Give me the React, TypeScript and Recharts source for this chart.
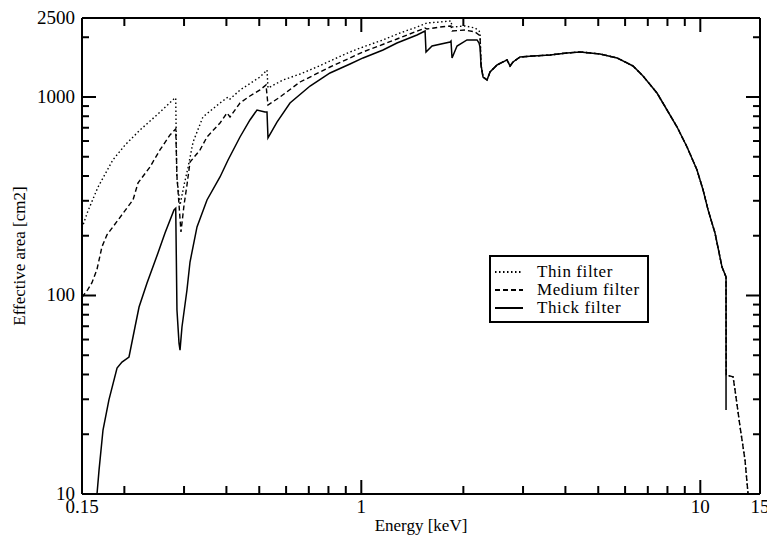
import { LineChart, Line, XAxis, YAxis, ReferenceLine } from 'recharts';

const FONT = '"Liberation Serif", "DejaVu Serif", serif';

// energy [keV], effective area [cm2]
const thinLow = [
  [0.150, 219], [0.156, 265], [0.167, 350], [0.185, 482], [0.201, 573], [0.2225, 682],
  [0.255, 840], [0.280, 977], [0.2835, 990], [0.2855, 395], [0.292, 286], [0.300, 360],
  [0.308, 439], [0.319, 593], [0.341, 793], [0.383, 933], [0.4045, 1000], [0.410, 977],
  [0.439, 1085], [0.5025, 1261], [0.527, 1368], [0.5306, 1110], [0.5875, 1218], [0.660, 1306],
  [0.740, 1416], [0.809, 1519], [0.926, 1686], [1.012, 1786], [1.159, 1938], [1.301, 2101],
  [1.460, 2252], [1.563, 2360], [1.707, 2387], [1.839, 2415], [1.852, 2252], [2.023, 2279],
  [2.165, 2226], [2.225, 2150], [2.240, 2100],
];

const mediumLow = [
  [0.150, 98], [0.156, 107], [0.1605, 116], [0.166, 135], [0.1718, 176], [0.1777, 202],
  [0.1916, 240], [0.2036, 276], [0.2121, 303], [0.2195, 369], [0.238, 444], [0.2547, 541],
  [0.2727, 644], [0.2835, 690], [0.2859, 400], [0.2938, 209], [0.300, 286], [0.306, 360],
  [0.3124, 470], [0.3344, 541], [0.3506, 629], [0.383, 740], [0.4017, 831], [0.410, 793],
  [0.4387, 933], [0.4694, 1012], [0.5025, 1085], [0.5235, 1150], [0.5306, 911], [0.5757, 1000],
  [0.6596, 1190], [0.8086, 1416], [1.012, 1686], [1.274, 1960], [1.542, 2226], [1.563, 2200],
  [1.707, 2252], [1.839, 2279], [1.852, 2150], [2.023, 2175], [2.165, 2126], [2.225, 2053],
  [2.240, 2030],
];

const thickLow = [
  [0.1661, 10], [0.1684, 13.2], [0.173, 21], [0.1801, 29.8], [0.1903, 43.1], [0.1968, 46.2],
  [0.2064, 49], [0.215, 69.4], [0.221, 87.5], [0.2333, 115.6], [0.2513, 163.7], [0.2636, 206.5],
  [0.2802, 269.7], [0.2835, 275], [0.2859, 84.5], [0.2899, 57.6], [0.2919, 53.1], [0.2958, 69.4],
  [0.306, 106.6], [0.3124, 147.5], [0.3276, 221.4], [0.3506, 302.8], [0.383, 395.4], [0.4045, 481.6],
  [0.4387, 628.8], [0.4694, 765.9], [0.4923, 860.1], [0.5199, 840], [0.527, 840], [0.5306, 622],
  [0.564, 748], [0.6161, 933], [0.7061, 1136], [0.8086, 1321], [0.9262, 1467], [1.012, 1573],
  [1.159, 1725], [1.274, 1871], [1.46, 2053], [1.542, 2150], [1.552, 1686], [1.617, 1807],
  [1.827, 1893], [1.839, 1915], [1.852, 1573], [1.916, 1807], [2.05, 1938], [2.195, 1938],
  [2.225, 1871], [2.24, 1786],
];

// above the Au M edge the three filters give the same area
const commonHigh = [
  [2.255, 1450], [2.286, 1261], [2.349, 1218], [2.397, 1336], [2.514, 1450], [2.691, 1537],
  [2.747, 1433], [2.803, 1501], [2.939, 1591], [3.211, 1609], [3.604, 1628], [4.045, 1667],
  [4.418, 1686], [5.06, 1647], [5.679, 1573], [6.332, 1433], [6.776, 1276], [7.452, 1047],
  [7.977, 860], [8.54, 706], [9.138, 560], [9.779, 429], [10.19, 340], [10.54, 270],
  [11.05, 206.5], [11.59, 139], [11.91, 124],
];

const openTail = [[11.93, 39.8], [12.49, 38.9], [12.66, 33.4], [13.1, 21.8], [13.55, 14.8], [13.83, 10]];
const thickTail = [[11.91, 26.5]];

const xTicks = [0.15, 0.2, 0.3, 0.4, 0.5, 0.6, 0.7, 0.8, 0.9, 1, 2, 3, 4, 5, 6, 7, 8, 9, 10, 15];
const xMinor = [0.2, 0.3, 0.4, 0.5, 0.6, 0.7, 0.8, 0.9, 2, 3, 4, 5, 6, 7, 8, 9];
const xMajor = [1, 10];
const xLabels: Record<string, string> = { '0.15': '0.15', '1': '1', '10': '10', '15': '15' };
const yTicks = [10, 20, 30, 40, 50, 60, 70, 80, 90, 100, 200, 300, 400, 500, 600, 700, 800, 900, 1000, 2000, 2500];
const yMinor = [20, 30, 40, 50, 60, 70, 80, 90, 200, 300, 400, 500, 600, 700, 800, 900, 2000];
const yMajor = [100, 1000];
const yLabels: Record<string, string> = { '10': '10', '100': '100', '1000': '1000', '2500': '2500' };

const X_MIN = 0.15;
const X_MAX = 15;
const Y_MIN = 10;
const Y_MAX = 2500;

// tick lengths as ratios on the log axes (plot is 678px for 2 decades in x, 476px for log10(250) in y)
const X_PX = 678 / 2;
const Y_PX = 476 / Math.log10(250);
const vMinor = Math.pow(10, 8 / Y_PX);
const vMajor = Math.pow(10, 14 / Y_PX);
const hMinor = Math.pow(10, 7 / X_PX);
const hMajor = Math.pow(10, 14 / X_PX);

const toPoints = (rows: number[][]) => rows.map(([e, a]) => ({ e, a }));

const thin = toPoints([...thinLow, ...commonHigh, ...openTail]);
const medium = toPoints([...mediumLow, ...commonHigh, ...openTail]);
const thick = toPoints([...thickLow, ...commonHigh, ...thickTail]);

const SERIES = [
  { name: 'Thin filter', data: thin, dash: '1.5 2.5', width: 1.4 },
  { name: 'Medium filter', data: medium, dash: '5 3', width: 1.4 },
  { name: 'Thick filter', data: thick, dash: undefined, width: 1.5 },
];

// labels only; the end ticks also draw the frame edges
const XTick = (props: any) => {
  const { x, payload } = props;
  const v = payload.value;
  const label = xLabels[String(v)];
  return (
    <g>
      {(v === X_MIN || v === X_MAX) && <line x1={x} x2={x} y1={18} y2={494} stroke="#000" strokeWidth={2} />}
      {label && (
        <text x={x} y={513} textAnchor="middle" fontFamily={FONT} fontSize={19} fill="#000">
          {label}
        </text>
      )}
    </g>
  );
};

const YTick = (props: any) => {
  const { y, payload } = props;
  const v = payload.value;
  const label = yLabels[String(v)];
  return (
    <g>
      {(v === Y_MIN || v === Y_MAX) && <line x1={82} x2={760} y1={y} y2={y} stroke="#000" strokeWidth={2} />}
      {label && (
        <text x={75} y={y + 6} textAnchor="end" fontFamily={FONT} fontSize={19} fill="#000">
          {label}
        </text>
      )}
    </g>
  );
};

const tickSegments = () => {
  const segs: { key: string; seg: { x: number; y: number }[] }[] = [];
  xMinor.forEach((v) => {
    segs.push({ key: `xb${v}`, seg: [{ x: v, y: Y_MIN }, { x: v, y: Y_MIN * vMinor }] });
    segs.push({ key: `xt${v}`, seg: [{ x: v, y: Y_MAX }, { x: v, y: Y_MAX / vMinor }] });
  });
  xMajor.forEach((v) => {
    segs.push({ key: `xB${v}`, seg: [{ x: v, y: Y_MIN }, { x: v, y: Y_MIN * vMajor }] });
    segs.push({ key: `xT${v}`, seg: [{ x: v, y: Y_MAX }, { x: v, y: Y_MAX / vMajor }] });
  });
  yMinor.forEach((v) => {
    segs.push({ key: `yl${v}`, seg: [{ x: X_MIN, y: v }, { x: X_MIN * hMinor, y: v }] });
    segs.push({ key: `yr${v}`, seg: [{ x: X_MAX, y: v }, { x: X_MAX / hMinor, y: v }] });
  });
  yMajor.forEach((v) => {
    segs.push({ key: `yL${v}`, seg: [{ x: X_MIN, y: v }, { x: X_MIN * hMajor, y: v }] });
    segs.push({ key: `yR${v}`, seg: [{ x: X_MAX, y: v }, { x: X_MAX / hMajor, y: v }] });
  });
  return segs;
};

const LegendBox = () => (
  <div
    style={{
      position: 'absolute',
      left: 489,
      top: 255,
      border: '2px solid #000',
      background: '#fff',
      width: 160,
      height: 68,
      boxSizing: 'border-box',
      padding: '6px 0 0 4px',
      fontFamily: FONT,
      fontSize: 17,
      color: '#000',
    }}
  >
    {SERIES.map((s) => (
      <div key={s.name} style={{ display: 'flex', alignItems: 'center', height: 18, lineHeight: '18px' }}>
        <svg width={28} height={10} style={{ flex: 'none' }}>
          <line x1={0} x2={28} y1={5} y2={5} stroke="#000" strokeWidth={2} strokeDasharray={s.dash} />
        </svg>
        <span style={{ marginLeft: 14, whiteSpace: 'nowrap', letterSpacing: 0.6 }}>{s.name}</span>
      </div>
    ))}
  </div>
);

export default function App() {
  return (
    <div style={{ position: 'absolute', left: 0, top: 0, width: 767, height: 538, background: '#fff', overflow: 'hidden' }}>
      <LineChart width={767} height={538} margin={{ top: 18, right: 7, bottom: 0, left: 0 }}>
        <XAxis
          dataKey="e"
          type="number"
          scale="log"
          domain={[X_MIN, X_MAX]}
          ticks={xTicks}
          interval={0}
          allowDataOverflow
          axisLine={false}
          tickLine={false}
          tick={(p: any) => <XTick {...p} />}
          height={44}
        />
        <YAxis
          type="number"
          scale="log"
          domain={[Y_MIN, Y_MAX]}
          ticks={yTicks}
          interval={0}
          allowDataOverflow
          axisLine={false}
          tickLine={false}
          tick={(p: any) => <YTick {...p} />}
          width={82}
        />
        {tickSegments().map((t) => (
          <ReferenceLine key={t.key} segment={t.seg} stroke="#000" strokeWidth={2} ifOverflow="visible" />
        ))}
        {SERIES.map((s) => (
          <Line
            key={s.name}
            data={s.data}
            dataKey="a"
            name={s.name}
            type="linear"
            stroke="#000"
            strokeWidth={s.width}
            strokeDasharray={s.dash}
            dot={false}
            activeDot={false}
            isAnimationActive={false}
          />
        ))}
      </LineChart>
      <LegendBox />
      <div
        style={{
          position: 'absolute',
          left: 421,
          top: 516,
          transform: 'translateX(-50%)',
          fontFamily: FONT,
          fontSize: 17,
          lineHeight: '19px',
          whiteSpace: 'nowrap',
          color: '#000',
        }}
      >
        Energy [keV]
      </div>
      <div
        style={{
          position: 'absolute',
          left: 19,
          top: 256,
          transform: 'translate(-50%, -50%) rotate(-90deg)',
          fontFamily: FONT,
          fontSize: 17,
          lineHeight: '19px',
          whiteSpace: 'nowrap',
          color: '#000',
        }}
      >
        Effective area [cm2]
      </div>
    </div>
  );
}
